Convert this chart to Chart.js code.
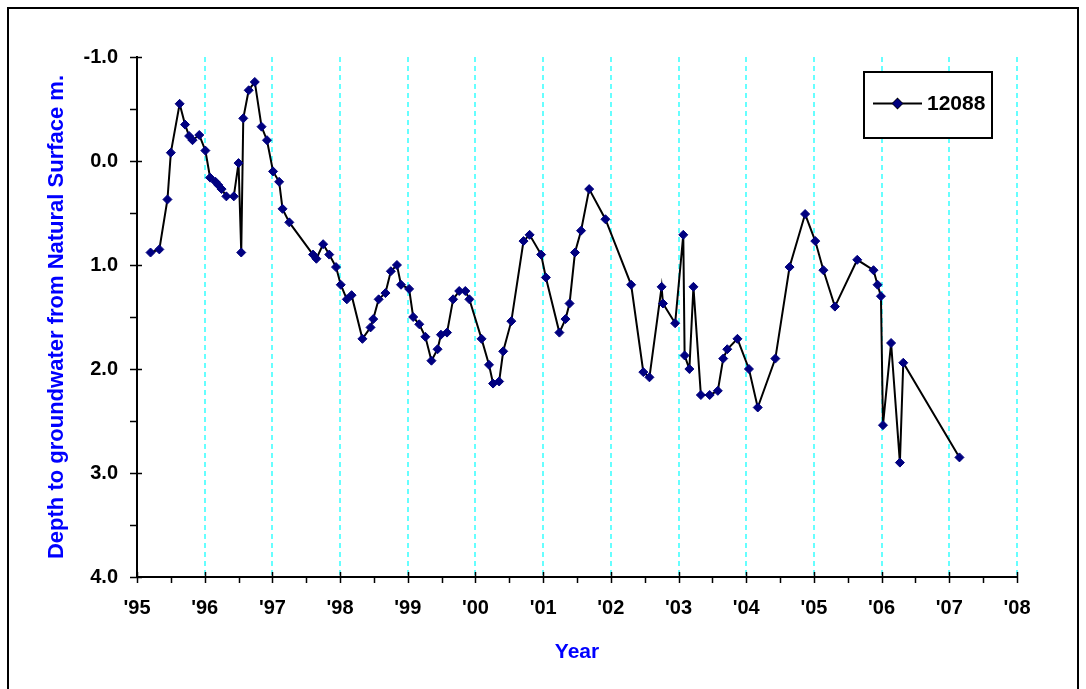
<!DOCTYPE html>
<html>
<head>
<meta charset="utf-8">
<title>Bore 12088 groundwater depth</title>
<script src="https://cdn.jsdelivr.net/npm/chart.js@4.4.1/dist/chart.umd.min.js"></script>
<style>
  html, body { margin: 0; padding: 0; background: #ffffff; overflow: hidden; }
  canvas { display: block; }
</style>
</head>
<body>
<canvas id="chart" width="1086" height="689"></canvas>
<script>
// Bore 12088: depth to groundwater (m below natural surface), sampled by decimal year
const seriesName = '12088';

const sampleYears = [
  1995.20, 1995.33, 1995.45, 1995.50, 1995.63, 1995.71, 1995.77, 1995.82, 1995.92,
  1996.01, 1996.08, 1996.16, 1996.20, 1996.25, 1996.32, 1996.43, 1996.50, 1996.54,
  1996.57, 1996.65, 1996.74, 1996.84, 1996.92,
  1997.01, 1997.10, 1997.15, 1997.25, 1997.60, 1997.65, 1997.75, 1997.84, 1997.94,
  1998.01, 1998.10, 1998.17, 1998.33, 1998.45, 1998.49, 1998.57, 1998.67, 1998.75,
  1998.84, 1998.90,
  1999.02, 1999.08, 1999.17, 1999.26, 1999.35, 1999.44, 1999.49, 1999.58, 1999.67,
  1999.76, 1999.85, 1999.91,
  2000.09, 2000.20, 2000.26, 2000.35, 2000.41, 2000.53, 2000.71, 2000.80, 2000.97,
  2001.04, 2001.24, 2001.33, 2001.39, 2001.47, 2001.56, 2001.68, 2001.92,
  2002.30, 2002.48, 2002.57, 2002.75, 2002.77, 2002.95,
  2003.07, 2003.09, 2003.16, 2003.22, 2003.33, 2003.46, 2003.58, 2003.66, 2003.72, 2003.87,
  2004.04, 2004.17, 2004.43, 2004.64, 2004.87,
  2005.02, 2005.14, 2005.31, 2005.64, 2005.88, 2005.94, 2005.99,
  2006.02, 2006.14, 2006.27, 2006.32,
  2007.15
];

const depthMetres = [
  0.88, 0.85, 0.37, -0.08, -0.55, -0.35, -0.24, -0.20, -0.25,
  -0.10, 0.16, 0.20, 0.23, 0.27, 0.34, 0.34, 0.02, 0.88,
  -0.41, -0.68, -0.76, -0.33, -0.20,
  0.10, 0.20, 0.46, 0.59, 0.90, 0.94, 0.80, 0.90, 1.02,
  1.19, 1.33, 1.29, 1.71, 1.60, 1.52, 1.33, 1.27, 1.06,
  1.00, 1.19,
  1.23, 1.50, 1.57, 1.69, 1.92, 1.81, 1.67, 1.65, 1.33,
  1.25, 1.25, 1.33,
  1.71, 1.96, 2.14, 2.12, 1.83, 1.54, 0.77, 0.71, 0.90,
  1.12, 1.65, 1.52, 1.37, 0.88, 0.67, 0.27, 0.56,
  1.19, 2.03, 2.08, 1.21, 1.37, 1.56,
  0.71, 1.87, 2.00, 1.21, 2.25, 2.25, 2.21, 1.90, 1.81, 1.71,
  2.00, 2.37, 1.90, 1.02, 0.51,
  0.77, 1.05, 1.40, 0.95, 1.05, 1.19, 1.30,
  2.54, 1.75, 2.90, 1.94,
  2.85
];

const yearTicks = [1995, 1996, 1997, 1998, 1999, 2000, 2001, 2002, 2003, 2004, 2005, 2006, 2007, 2008];
const yearTickLabels = ["'95", "'96", "'97", "'98", "'99", "'00", "'01", "'02", "'03", "'04", "'05", "'06", "'07", "'08"];
const depthTicks = [-1, 0, 1, 2, 3, 4];
const depthTickLabels = ['-1.0', '0.0', '1.0', '2.0', '3.0', '4.0'];

const FONT = '"Liberation Sans", Arial, Helvetica, sans-serif';
const LINE_COLOR = '#000000';
const MARKER_COLOR = '#000080';
const TITLE_BLUE = '#0000FF';
const GRID_CYAN = '#66FFFF';

const points = sampleYears.map((x, i) => ({ x: x, y: depthMetres[i] }));

// Outer frame, axis tick marks and the boxed legend
const decorations = {
  id: 'decorations',
  beforeDraw(chart) {
    const ctx = chart.ctx;
    ctx.save();
    ctx.fillStyle = '#ffffff';
    ctx.fillRect(0, 0, chart.width, chart.height);
    ctx.strokeStyle = '#000000';
    ctx.lineWidth = 2;
    ctx.strokeRect(8, 8, 1070, 700);
    ctx.restore();
  },
  afterDraw(chart) {
    const ctx = chart.ctx;
    const xs = chart.scales.x;
    const ys = chart.scales.y;
    const area = chart.chartArea;
    ctx.save();
    ctx.strokeStyle = '#000000';
    ctx.lineWidth = 1.5;
    ctx.beginPath();
    // half-year ticks on the year axis
    for (let v = yearTicks[0]; v <= yearTicks[yearTicks.length - 1] + 1e-9; v += 0.5) {
      const px = Math.round(xs.getPixelForValue(v)) + 0.5;
      const major = Math.abs(v - Math.round(v)) < 1e-6;
      ctx.moveTo(px, area.bottom + (major ? -5 : 0));
      ctx.lineTo(px, area.bottom + 6);
    }
    // half-metre ticks on the depth axis
    for (let v = depthTicks[0]; v <= depthTicks[depthTicks.length - 1] + 1e-9; v += 0.5) {
      const py = Math.round(ys.getPixelForValue(v)) + 0.5;
      const major = Math.abs(v - Math.round(v)) < 1e-6;
      ctx.moveTo(area.left - 7, py);
      ctx.lineTo(area.left + (major ? 5 : 0), py);
    }
    ctx.stroke();

    // legend box
    const ds = chart.data.datasets[0];
    const bx = 864, by = 72, bw = 128, bh = 66;
    ctx.fillStyle = '#ffffff';
    ctx.fillRect(bx, by, bw, bh);
    ctx.lineWidth = 2;
    ctx.strokeStyle = '#000000';
    ctx.strokeRect(bx, by, bw, bh);
    const ly = by + 31.5;
    ctx.beginPath();
    ctx.lineWidth = ds.borderWidth;
    ctx.strokeStyle = ds.borderColor;
    ctx.moveTo(873, ly);
    ctx.lineTo(922, ly);
    ctx.stroke();
    Chart.helpers.drawPoint(ctx, {
      pointStyle: ds.pointStyle,
      radius: ds.pointRadius,
      borderWidth: ds.pointBorderWidth,
      rotation: 0
    }, 897.5, ly);
    ctx.fillStyle = ds.pointBackgroundColor;
    ctx.strokeStyle = ds.pointBorderColor;
    ctx.lineWidth = ds.pointBorderWidth;
    ctx.fill();
    ctx.stroke();
    ctx.fillStyle = '#000000';
    ctx.font = 'bold 21px ' + FONT;
    ctx.textAlign = 'left';
    ctx.textBaseline = 'middle';
    ctx.fillText(ds.label, 927, ly + 1);
    ctx.restore();
  }
};

new Chart(document.getElementById('chart'), {
  type: 'line',
  data: {
    datasets: [{
      label: seriesName,
      data: points,
      borderColor: LINE_COLOR,
      borderWidth: 2,
      tension: 0,
      pointStyle: 'rectRot',
      pointRadius: 4.5,
      pointBorderWidth: 1,
      pointBackgroundColor: MARKER_COLOR,
      pointBorderColor: MARKER_COLOR,
      clip: false
    }]
  },
  options: {
    responsive: false,
    animation: false,
    events: [],
    layout: { padding: { left: 0, right: 69, top: 57, bottom: 0 } },
    plugins: {
      legend: { display: false },
      tooltip: { enabled: false },
      title: { display: false }
    },
    scales: {
      x: {
        type: 'linear',
        position: 'bottom',
        min: yearTicks[0],
        max: yearTicks[yearTicks.length - 1],
        afterBuildTicks(scale) {
          scale.ticks = yearTicks.map(v => ({ value: v }));
        },
        afterFit(scale) { scale.height = 112; },
        grid: {
          display: true,
          drawOnChartArea: true,
          drawTicks: false,
          color: GRID_CYAN,
          lineWidth: 2
        },
        border: { display: true, color: '#000000', width: 2, dash: [5, 4] },
        ticks: {
          padding: 19,
          color: '#000000',
          font: { family: FONT, size: 20, weight: 'bold' },
          maxRotation: 0,
          autoSkip: false,
          callback(value) {
            const i = yearTicks.indexOf(value);
            return i >= 0 ? yearTickLabels[i] : '';
          }
        },
        title: {
          display: true,
          text: 'Year',
          color: TITLE_BLUE,
          font: { family: FONT, size: 21, weight: 'bold' },
          padding: { top: 0, bottom: 24 }
        }
      },
      y: {
        type: 'linear',
        position: 'left',
        reverse: true,
        min: depthTicks[0],
        max: depthTicks[depthTicks.length - 1],
        afterBuildTicks(scale) {
          scale.ticks = depthTicks.map(v => ({ value: v }));
        },
        afterFit(scale) { scale.width = 137; },
        grid: { display: false, drawTicks: false },
        border: { display: true, color: '#000000', width: 2 },
        ticks: {
          padding: 19,
          color: '#000000',
          font: { family: FONT, size: 20, weight: 'bold' },
          autoSkip: false,
          callback(value) {
            const i = depthTicks.indexOf(value);
            return i >= 0 ? depthTickLabels[i] : '';
          }
        },
        title: {
          display: true,
          text: 'Depth to groundwater from Natural Surface m.',
          color: TITLE_BLUE,
          font: { family: FONT, size: 22, weight: 'bold' },
          padding: { top: 44, bottom: 0 }
        }
      }
    }
  },
  plugins: [decorations]
});
</script>
</body>
</html>
